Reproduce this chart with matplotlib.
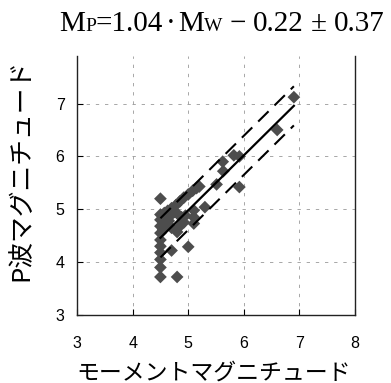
import numpy as np
import matplotlib
matplotlib.use("Agg")
import matplotlib.pyplot as plt
from matplotlib.offsetbox import TextArea, HPacker, AnchoredOffsetbox, DrawingArea

# データ (Mw, Mp)
mw = [6.90, 6.60, 5.82, 5.92, 5.62, 5.63, 5.51, 5.92, 5.20, 5.15,
      5.08, 5.00, 4.92, 4.85, 4.78, 4.70, 4.63, 4.50, 5.30, 5.10,
      5.10, 5.10, 4.50, 4.50, 4.50, 4.50, 4.50, 4.50, 4.50, 4.50,
      4.50, 4.50, 4.57, 4.60, 4.65, 4.60, 4.70, 4.75, 4.82, 4.88,
      4.95, 4.92, 4.85, 4.80, 4.70, 4.70, 5.00, 4.80, 4.55]
mp = [7.12, 6.50, 6.02, 6.00, 5.90, 5.72, 5.47, 5.42, 5.43, 5.40,
      5.35, 5.28, 5.22, 5.15, 5.08, 5.02, 4.97, 5.20, 5.04, 4.98,
      4.85, 4.73, 4.90, 4.80, 4.68, 4.55, 4.42, 4.30, 4.18, 4.05,
      3.90, 3.72, 4.93, 4.85, 4.78, 4.70, 4.90, 4.95, 4.90, 4.85,
      4.88, 4.75, 4.68, 4.57, 4.65, 4.22, 4.29, 3.72, 4.62]

slope = 1.04
intercept = -0.22
sigma = 0.37
fit_range = [4.5, 6.9]

xticks = [3, 4, 5, 6, 7, 8]
yticks = [3, 4, 5, 6, 7]

fig = plt.figure(figsize=(3.91, 3.83), dpi=100)
ax = fig.add_axes([0.197, 0.1775, 0.711, 0.6765])

ax.set_xlim(3, 8)
ax.set_ylim(3, 7.9)
ax.set_xticks(xticks)
ax.set_yticks(yticks)
ax.tick_params(direction="in", length=4, width=0.8, labelsize=11.5)
ax.tick_params(axis="x", pad=15)
ax.tick_params(axis="y", pad=9)
for lab in ax.get_xticklabels() + ax.get_yticklabels():
    lab.set_fontfamily("Liberation Sans")
ax.spines["top"].set_visible(False)
for s in ["left", "right", "bottom"]:
    ax.spines[s].set_linewidth(1.0)
    ax.spines[s].set_color("#222222")

for v in [4, 5, 6, 7]:
    ax.axvline(v, color="#999999", lw=0.6, dashes=(4, 7), zorder=0)
    ax.axhline(v, color="#999999", lw=0.6, dashes=(4, 7), zorder=0)

ax.scatter(mw, mp, marker="D", s=42, color="#4d4d4d", edgecolors="none", zorder=2)

xf = np.array(fit_range)
ax.plot(xf, slope * xf + intercept, color="black", lw=1.6, zorder=3)
ax.plot(xf, slope * xf + intercept + sigma, color="black", lw=1.5, dashes=(7, 4), zorder=3)
ax.plot(xf, slope * xf + intercept - sigma, color="black", lw=1.5, dashes=(7, 4), zorder=3)

jp = ["Noto Sans CJK JP", "DejaVu Sans"]
ax.set_xlabel("モーメントマグニチュード", fontsize=16.5, family=jp)
ax.set_ylabel("P波マグニチュード", fontsize=18.5, family=jp)
ax.xaxis.set_label_coords(0.49, -0.178)
ax.yaxis.set_label_coords(-0.155, 0.56)

# タイトル (添字は小さく、ベースライン揃え)
big = dict(fontsize=21, family="Liberation Serif")
small = dict(fontsize=14, family="Liberation Serif")


def gap(w):
    return DrawingArea(w, 1)


parts = [TextArea("M", textprops=big), TextArea("P", textprops=small),
         TextArea("=1.04", textprops=big), gap(2), TextArea("·", textprops=big),
         gap(2), TextArea("M", textprops=big), TextArea("W", textprops=small),
         gap(5), TextArea("−", textprops=big), gap(5),
         TextArea("0.22", textprops=big), gap(5),
         TextArea("±", textprops=big), gap(5),
         TextArea("0.37", textprops=big)]
box = HPacker(children=parts, align="baseline", pad=0, sep=0)
anchored = AnchoredOffsetbox(loc="center", child=box, pad=0, frameon=False,
                             bbox_to_anchor=(0.567, 0.937),
                             bbox_transform=fig.transFigure)
fig.add_artist(anchored)

fig.savefig("out.png", dpi=100)
